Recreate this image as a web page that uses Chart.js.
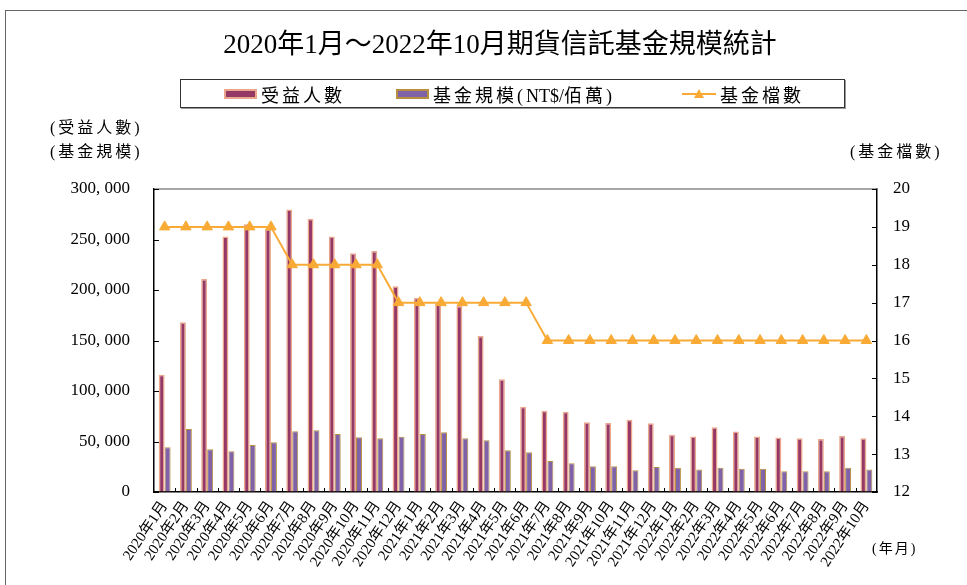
<!DOCTYPE html>
<html>
<head>
<meta charset="utf-8">
<script src="https://cdn.jsdelivr.net/npm/chart.js@4/dist/chart.umd.min.js"></script>
<style>
  html, body { margin:0; padding:0; background:#fff; overflow:hidden; }
  #wrap { position:relative; width:967px; height:585px; font-family:"Liberation Serif","Noto Sans CJK TC",serif; color:#000; }
  #frame { position:absolute; left:5px; top:10px; width:1000px; height:620px; border:1px solid #666; box-sizing:border-box; }
  canvas { position:absolute; left:0; top:0; }
  .t { position:absolute; white-space:nowrap; line-height:1; }
  #title { left:0; width:1000px; text-align:center; top:31px; font-size:27px; }
  #legend { position:absolute; left:180px; top:79px; width:665px; height:29px; border:1px solid #333; box-sizing:border-box; box-shadow:1px 1px 0 #999; }
  .li { position:absolute; top:4px; font-size:18px; letter-spacing:3px; display:flex; align-items:center; height:20px; }
  .li .a { letter-spacing:0; }
  .sw { display:inline-block; width:33px; height:10px; margin-right:4px; box-sizing:border-box; }
  .ax { font-size:16px; letter-spacing:3px; }
</style>
</head>
<body>
<div id="wrap">
  <div id="frame"></div>
  <canvas id="c" width="967" height="585"></canvas>
  <div class="t" id="title">2020年1月～2022年10月期貨信託基金規模統計</div>
  <div id="legend"></div>
  <div class="t ax" style="left:50px;top:120px;">(受益人數)</div>
  <div class="t ax" style="left:50px;top:144px;">(基金規模)</div>
  <div class="t ax" style="left:850px;top:144px;">(基金檔數)</div>
  <div class="t" style="left:872px;top:542px;font-size:14px;letter-spacing:2px;">(年月)</div>
</div>
<script>
// ---- data ----
const categories = [
  "2020年1月","2020年2月","2020年3月","2020年4月","2020年5月","2020年6月",
  "2020年7月","2020年8月","2020年9月","2020年10月","2020年11月","2020年12月",
  "2021年1月","2021年2月","2021年3月","2021年4月","2021年5月","2021年6月",
  "2021年7月","2021年8月","2021年9月","2021年10月","2021年11月","2021年12月",
  "2022年1月","2022年2月","2022年3月","2022年4月","2022年5月","2022年6月",
  "2022年7月","2022年8月","2022年9月","2022年10月"
];
const beneficiaries = [
  116000,168000,210800,253000,265000,260300,
  279800,270600,253000,236500,238600,203800,
  192000,186800,184200,154500,111600,84500,
  80500,79500,69000,68300,71600,68000,
  56600,54900,64200,59900,54900,53900,
  53100,52500,55500,53200
];
const fundSize = [
  44300,62500,42300,40400,46600,49300,
  60200,61200,57500,54200,53300,54600,
  57500,59200,53300,51300,41400,39400,
  30800,28500,25500,25400,21600,24800,
  23900,22400,23900,23100,23100,20600,
  20600,20600,23900,22400
];
const fundCount = [
  19,19,19,19,19,19,
  18,18,18,18,18,17,
  17,17,17,17,17,17,
  16,16,16,16,16,16,
  16,16,16,16,16,16,
  16,16,16,16
];
const leftTicks = { min: 0, max: 300000, step: 50000 };
const rightTicks = { min: 12, max: 20, step: 1 };
const seriesNames = ["受益人數", "基金規模(NT$/佰萬)", "基金檔數"];

// ---- colours ----
const C1 = "#963866", C1b = "#EAA78C";
const C2 = "#7F62A8", C2b = "#B8913F";
const C3 = "#F8AA35";

// ---- HTML legend ----
const lg = document.getElementById("legend");
const legendDefs = [
  { left: 43, html: `<span class="sw" style="background:${C1};border:2px solid ${C1b}"></span>` },
  { left: 215, html: `<span class="sw" style="background:${C2};border:2px solid ${C2b}"></span>` },
  { left: 501, html: `<svg width="34" height="12" style="margin-right:4px"><line x1="0" y1="6" x2="34" y2="6" stroke="${C3}" stroke-width="2"/><polygon points="17,1 22,10 12,10" fill="${C3}"/></svg>` }
];
legendDefs.forEach((d, i) => {
  const el = document.createElement("div");
  el.className = "li";
  el.style.left = d.left + "px";
  const txt = seriesNames[i].replace(/\(([A-Za-z$\/]+)/, '(<span class="a">$1</span>');
  el.innerHTML = d.html + `<span>${txt}</span>`;
  lg.appendChild(el);
});

const fmt = v => v.toLocaleString("en-US").replace(/,/g, ", ");

const frameTicks = {
  id: "frameTicks",
  afterDraw(chart) {
    const { ctx, chartArea: a, scales } = chart;
    ctx.save();
    ctx.strokeStyle = "#8a8a8a";
    ctx.lineWidth = 1.5;
    ctx.beginPath(); ctx.moveTo(a.left, a.top); ctx.lineTo(a.right, a.top); ctx.stroke();
    ctx.strokeStyle = "#000";
    ctx.lineWidth = 1;
    scales.y.ticks.forEach(t => {
      const y = Math.round(scales.y.getPixelForValue(t.value)) + 0.5;
      ctx.beginPath(); ctx.moveTo(a.left, y); ctx.lineTo(a.left + 5, y); ctx.stroke();
    });
    scales.y1.ticks.forEach(t => {
      const y = Math.round(scales.y1.getPixelForValue(t.value)) + 0.5;
      ctx.beginPath(); ctx.moveTo(a.right, y); ctx.lineTo(a.right - 5, y); ctx.stroke();
    });
    const n = categories.length;
    const w = (scales.x.getPixelForValue(1) - scales.x.getPixelForValue(0));
    for (let i = 1; i < n; i++) {
      const x = Math.round(scales.x.getPixelForValue(i) - w / 2) + 0.5;
      ctx.beginPath(); ctx.moveTo(x, a.bottom); ctx.lineTo(x, a.bottom - 4); ctx.stroke();
    }
    ctx.restore();
  }
};

const fontFam = '"Liberation Serif","Noto Sans CJK TC",serif';
new Chart(document.getElementById("c"), {
  type: "bar",
  data: {
    labels: categories,
    datasets: [
      { type: "bar", label: seriesNames[0], data: beneficiaries, yAxisID: "y",
        backgroundColor: C1, borderColor: C1b, borderWidth: 1.5, order: 2,
        categoryPercentage: 0.56, barPercentage: 1.0 },
      { type: "bar", label: seriesNames[1], data: fundSize, yAxisID: "y",
        backgroundColor: C2, borderColor: C2b, borderWidth: 1, order: 2,
        categoryPercentage: 0.56, barPercentage: 1.0 },
      { type: "line", label: seriesNames[2], data: fundCount, yAxisID: "y1",
        borderColor: C3, backgroundColor: C3, borderWidth: 2, pointStyle: "triangle",
        pointRadius: 6, pointBorderWidth: 1, pointBackgroundColor: C3, pointBorderColor: C3,
        tension: 0, order: 1 }
    ]
  },
  options: {
    responsive: false,
    animation: false,
    devicePixelRatio: 1,
    layout: { padding: { top: 189, left: 0, right: 0, bottom: 0 } },
    plugins: { legend: { display: false }, title: { display: false }, tooltip: { enabled: false } },
    scales: {
      x: {
        grid: { display: true, drawOnChartArea: false, drawTicks: false },
        border: { display: true, color: "#000", width: 1.5 },
        ticks: { color: "#000", font: { family: fontFam, size: 15 }, autoSkip: false,
                 minRotation: 56, maxRotation: 56, padding: 6 },
        afterFit: s => { s.height = 93; }
      },
      y: {
        position: "left", min: leftTicks.min, max: leftTicks.max,
        grid: { display: true, drawOnChartArea: false, drawTicks: false },
        border: { display: true, color: "#000", width: 1.5 },
        ticks: { stepSize: leftTicks.step, color: "#000", padding: 24,
                 font: { family: fontFam, size: 17 }, callback: v => fmt(v) },
        afterFit: s => { s.width = 154; }
      },
      y1: {
        position: "right", min: rightTicks.min, max: rightTicks.max,
        grid: { display: true, drawOnChartArea: false, drawTicks: false },
        border: { display: true, color: "#000", width: 1.5 },
        ticks: { stepSize: rightTicks.step, color: "#000", padding: 16,
                 font: { family: fontFam, size: 17 } },
        afterFit: s => { s.width = 90; }
      }
    }
  },
  plugins: [frameTicks]
});
</script>
</body>
</html>
